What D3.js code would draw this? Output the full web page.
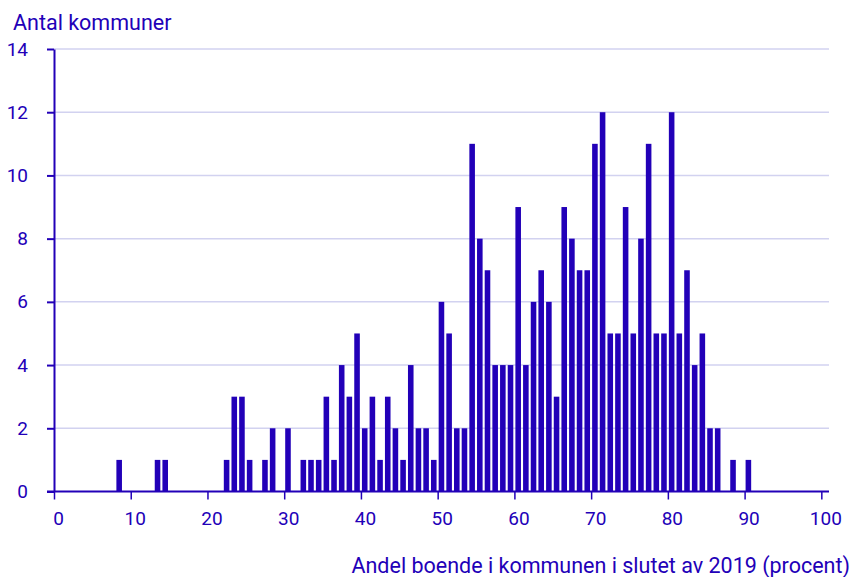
<!DOCTYPE html>
<html>
<head>
<meta charset="utf-8">
<script src="https://cdn.jsdelivr.net/npm/d3@7"></script>
<style>
  body { margin: 0; background: #fff; }
  svg { display: block; font-family: Roboto, "Noto Sans", sans-serif; }
</style>
</head>
<body>
<svg id="chart" width="853" height="577"></svg>
<script>
'use strict';

const mainColour = '#2200b8';
const gridColour = '#d2d2f0';

// share (percent, lower edge of 1-unit bin) and number of municipalities
const shares = [8, 13, 14, 22, 23, 24, 25, 27, 28, 30, 32, 33, 34, 35, 36, 37, 38, 39,
  40, 41, 42, 43, 44, 45, 46, 47, 48, 49, 50, 51, 52, 53, 54, 55, 56, 57, 58, 59,
  60, 61, 62, 63, 64, 65, 66, 67, 68, 69, 70, 71, 72, 73, 74, 75, 76, 77, 78, 79,
  80, 81, 82, 83, 84, 85, 86, 88, 90];
const counts = [1, 1, 1, 1, 3, 3, 1, 1, 2, 2, 1, 1, 1, 3, 1, 4, 3, 5,
  2, 3, 1, 3, 2, 1, 4, 2, 2, 1, 6, 5, 2, 2, 11, 8, 7, 4, 4, 4,
  9, 4, 6, 7, 6, 3, 9, 8, 7, 7, 11, 12, 5, 5, 9, 5, 8, 11, 5, 5,
  12, 5, 7, 4, 5, 2, 2, 1, 1];
const xTicks = [0, 10, 20, 30, 40, 50, 60, 70, 80, 90, 100];
const yTicks = [0, 2, 4, 6, 8, 10, 12, 14];

const yTitle = 'Antal kommuner';
const xTitle = 'Andel boende i kommunen i slutet av 2019 (procent)';

const svg = d3.select('#chart');
const x = d3.scaleLinear().domain([0, 101]).range([54, 829]);
const y = d3.scaleLinear().domain([0, 14]).range([491.5, 49]);

// gridlines
svg.append('g')
  .selectAll('line')
  .data(yTicks.filter(d => d > 0))
  .enter()
  .append('line')
  .attr('x1', x(0))
  .attr('x2', x(101))
  .attr('y1', d => y(d))
  .attr('y2', d => y(d))
  .attr('stroke', gridColour)
  .attr('stroke-width', 1.5);

// bars
const bars = shares.map((s, i) => ({ share: s, count: counts[i] }));
svg.append('g')
  .selectAll('rect')
  .data(bars)
  .enter()
  .append('rect')
  .attr('x', d => x(d.share) + 1)
  .attr('width', d => x(d.share + 1) - x(d.share) - 2.1)
  .attr('y', d => y(d.count))
  .attr('height', d => y(0) - y(d.count))
  .attr('fill', mainColour);

// x axis
const xAxis = svg.append('g')
  .attr('transform', `translate(0,${y(0)})`)
  .call(d3.axisBottom(x).tickValues(xTicks).tickSize(8).tickSizeOuter(0).tickPadding(12));
xAxis.select('.domain').remove();
xAxis.append('line')
  .attr('x1', x(0) - 7)
  .attr('x2', x(101))
  .attr('stroke', mainColour)
  .attr('stroke-width', 2);
xAxis.selectAll('.tick line').attr('stroke', mainColour).attr('stroke-width', 1.5);
xAxis.selectAll('.tick text')
  .attr('dx', 4)
  .attr('fill', mainColour)
  .style('font-size', '19px')
  .style('font-family', 'Roboto');

// y axis
const yAxis = svg.append('g')
  .attr('transform', `translate(${x(0)},0)`)
  .call(d3.axisLeft(y).tickValues(yTicks).tickSize(7).tickSizeOuter(0).tickPadding(19));
yAxis.select('.domain').attr('stroke', mainColour).attr('stroke-width', 2);
yAxis.selectAll('.tick line').attr('stroke', mainColour).attr('stroke-width', 2);
yAxis.selectAll('.tick text')
  .attr('fill', mainColour)
  .style('font-size', '19px')
  .style('font-family', 'Roboto');

// titles
svg.append('text')
  .attr('x', 13)
  .attr('y', 30)
  .attr('fill', mainColour)
  .style('font-size', '21.5px')
  .text(yTitle);

svg.append('text')
  .attr('x', 850)
  .attr('y', 573)
  .attr('text-anchor', 'end')
  .attr('fill', mainColour)
  .style('font-size', '21.5px')
  .text(xTitle);
</script>
</body>
</html>
